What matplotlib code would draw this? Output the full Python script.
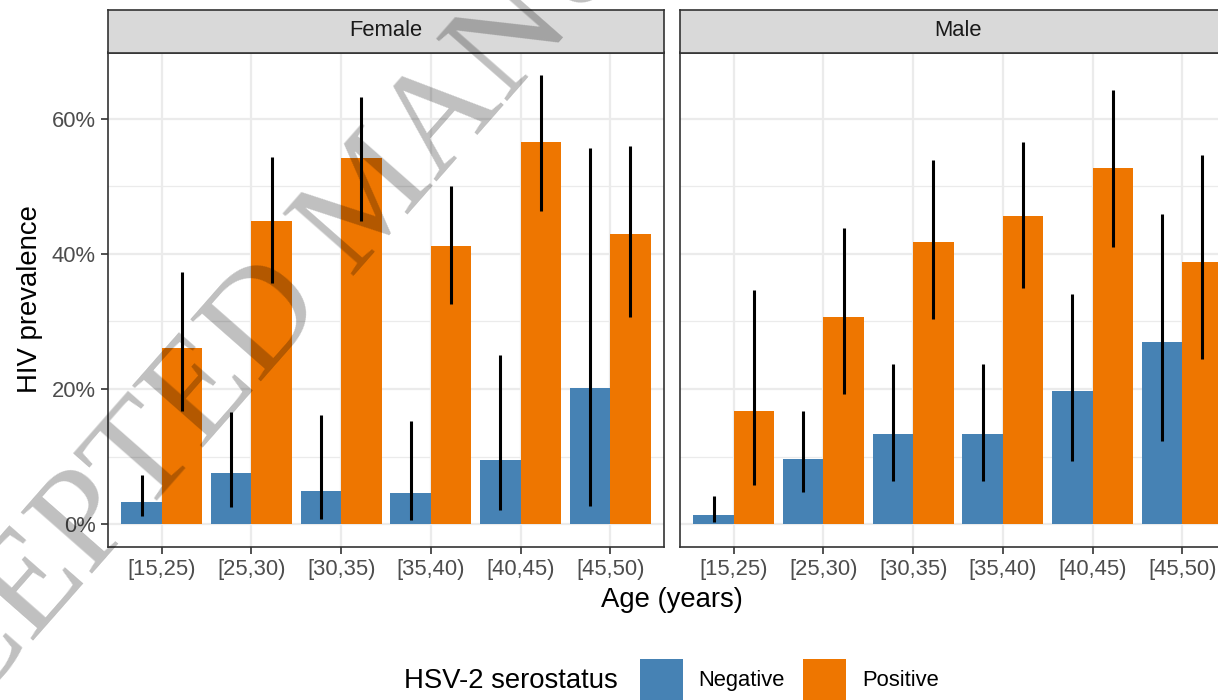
import matplotlib
matplotlib.use('Agg')
import matplotlib.pyplot as plt
import numpy as np
from matplotlib.patches import Rectangle
from matplotlib.ticker import FuncFormatter, FixedLocator

plt.rcParams['font.family'] = ['Liberation Sans', 'DejaVu Sans']

# ---------------- data ----------------
age_groups = ['[15,25)', '[25,30)', '[30,35)', '[35,40)', '[40,45)', '[45,50)']
sexes = ['Female', 'Male']
serostatus = ['Negative', 'Positive']

female_neg = [3.3, 7.6, 4.9, 4.6, 9.5, 20.1]
female_neg_lo = [1.2, 2.5, 0.7, 0.6, 2.1, 2.6]
female_neg_hi = [7.3, 16.6, 16.2, 15.2, 25.0, 55.7]
female_pos = [26.1, 44.9, 54.2, 41.2, 56.6, 43.0]
female_pos_lo = [16.8, 35.7, 44.9, 32.6, 46.4, 30.6]
female_pos_hi = [37.3, 54.4, 63.2, 50.1, 66.5, 56.0]

male_neg = [1.3, 9.6, 13.3, 13.3, 19.7, 26.9]
male_neg_lo = [0.25, 4.8, 6.4, 6.4, 9.4, 12.3]
male_neg_hi = [4.1, 16.8, 23.7, 23.7, 34.0, 45.9]
male_pos = [16.7, 30.6, 41.8, 45.6, 52.7, 38.8]
male_pos_lo = [5.8, 19.3, 30.3, 34.9, 41.0, 24.4]
male_pos_hi = [34.7, 43.9, 53.9, 56.5, 64.3, 54.6]

y_ticks = [0, 20, 40, 60]
y_minor = [10, 30, 50]

colors = {'Negative': '#4682B4', 'Positive': '#EE7600'}

# ---------------- layout ----------------
W, H = 1218, 700
fig = plt.figure(figsize=(W / 100, H / 100), dpi=100)
fig.patch.set_facecolor('white')


def fx(px):
    return px / W


def fy(py):
    return 1 - py / H


panel_top, panel_bot = 52.5, 546.5
panel_w = 556
lefts = [108, 680]

ymax = max(female_neg_hi + female_pos_hi + male_neg_hi + male_pos_hi)
ylim = (-0.05 * ymax, 1.05 * ymax)

panel_data = {
    'Female': (female_neg, female_neg_lo, female_neg_hi, female_pos, female_pos_lo, female_pos_hi),
    'Male': (male_neg, male_neg_lo, male_neg_hi, male_pos, male_pos_lo, male_pos_hi),
}

border = '#333333'
x = np.arange(len(age_groups))
bw = 0.45

for i, sex in enumerate(sexes):
    left = lefts[i]
    ax = fig.add_axes([fx(left), fy(panel_bot), panel_w / W, (panel_bot - panel_top) / H])
    neg, neg_lo, neg_hi, pos, pos_lo, pos_hi = panel_data[sex]
    ax.bar(x - bw / 2, neg, width=bw, color=colors['Negative'], zorder=2)
    ax.bar(x + bw / 2, pos, width=bw, color=colors['Positive'], zorder=2)
    ax.vlines(x - bw / 2, neg_lo, neg_hi, color='black', lw=2.2, zorder=3)
    ax.vlines(x + bw / 2, pos_lo, pos_hi, color='black', lw=2.2, zorder=3)

    ax.set_xlim(-0.6, len(age_groups) - 0.4)
    ax.set_ylim(*ylim)
    ax.set_xticks(x)
    ax.set_xticklabels(age_groups)
    ax.yaxis.set_major_locator(FixedLocator(y_ticks))
    ax.yaxis.set_minor_locator(FixedLocator(y_minor))
    ax.yaxis.set_major_formatter(FuncFormatter(lambda v, p: f'{v:.0f}%'))
    ax.set_axisbelow(True)
    ax.grid(which='major', color='#EBEBEB', lw=1.6, zorder=0)
    ax.grid(which='minor', axis='y', color='#EBEBEB', lw=0.9, zorder=0)
    for s in ax.spines.values():
        s.set_color(border)
        s.set_linewidth(1.2)
        s.set_zorder(5)
    ax.tick_params(which='major', length=5, width=1.2, color=border,
                   labelcolor='#4D4D4D', labelsize=15.8, pad=4)
    ax.tick_params(which='minor', length=0)
    if i == 1:
        ax.tick_params(axis='y', left=False, labelleft=False)

    # strip
    sax = fig.add_axes([fx(left), fy(panel_top), panel_w / W, 43 / H])
    sax.set_facecolor('#D9D9D9')
    sax.set_xticks([])
    sax.set_yticks([])
    for s in sax.spines.values():
        s.set_color(border)
        s.set_linewidth(1.2)
    sax.text(0.5, 0.5, sex, transform=sax.transAxes, ha='center', va='center',
             fontsize=15.8, color='#1A1A1A')

# axis titles
fig.text(fx(30), fy((panel_top + panel_bot) / 2), 'HIV prevalence', rotation=90,
         ha='center', va='center', fontsize=19.8, color='black')
fig.text(fx(672), fy(600), 'Age (years)', ha='center', va='center',
         fontsize=19.8, color='black')

# legend
fig.text(fx(404), fy(680.5), 'HSV-2 serostatus', ha='left', va='center',
         fontsize=19.8, color='black')
key_x = [640, 803]
txt_x = [698, 862]
for k, lab in enumerate(serostatus):
    fig.patches.append(Rectangle((fx(key_x[k]), fy(702)), 43 / W, 43 / H,
                                 transform=fig.transFigure,
                                 facecolor=colors[lab], edgecolor='none'))
    fig.text(fx(txt_x[k]), fy(680.5), lab, ha='left', va='center',
             fontsize=15.8, color='black')

# watermark
fig.text(fx(401), fy(223), 'ACCEPTED MANUSCRIPT', rotation=48.7,
         rotation_mode='anchor', ha='center', va='baseline', fontsize=104,
         family=['Liberation Serif', 'DejaVu Serif'], color='black',
         alpha=0.25, zorder=100)

fig.savefig('out.png', dpi=100)
